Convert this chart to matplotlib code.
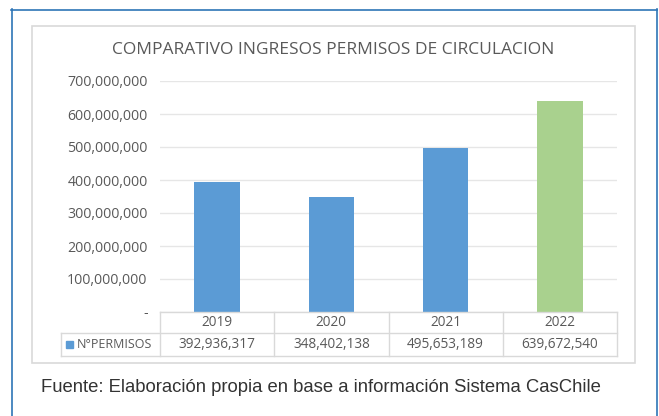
import matplotlib.pyplot as plt
from matplotlib.patches import Rectangle
from matplotlib.lines import Line2D

# Data
years = ['2019', '2020', '2021', '2022']
permisos = [392936317, 348402138, 495653189, 639672540]
bar_colors = ['#5B9BD5', '#5B9BD5', '#5B9BD5', '#A9D18E']
series_name = 'N°PERMISOS'
title = 'COMPARATIVO INGRESOS PERMISOS DE CIRCULACION'
footer = 'Fuente: Elaboración propia en base a información Sistema CasChile'

W, H = 659, 416
fig = plt.figure(figsize=(W / 100, H / 100), dpi=100)
fig.patch.set_facecolor('white')


def fx(px):
    return px / W


def fy(py):
    return 1 - py / H


def hline(x0, x1, y, color, lw=1.0):
    fig.add_artist(Line2D([fx(x0), fx(x1)], [fy(y), fy(y)], color=color, lw=lw,
                          transform=fig.transFigure))


def vline(x, y0, y1, color, lw=1.0):
    fig.add_artist(Line2D([fx(x), fx(x)], [fy(y0), fy(y1)], color=color, lw=lw,
                          transform=fig.transFigure))


# outer blue frame
blue = '#2E75B6'
hline(11, 657, 9.5, blue, 1.2)
vline(11.5, 9, 416, blue, 1.2)
vline(657, 9, 416, blue, 1.2)

# chart area frame
fig.add_artist(Rectangle((fx(32), fy(363)), fx(635) - fx(32), fy(26) - fy(363),
                         transform=fig.transFigure, fill=False, ec='#D9D9D9', lw=1.2))

# plot axes
left, right, top, bottom = 160, 617, 81, 312
ax = fig.add_axes([fx(left), fy(bottom), fx(right) - fx(left), fy(top) - fy(bottom)])
x = list(range(len(years)))
ax.bar(x, permisos, width=0.4, color=bar_colors, zorder=3)
ax.set_xlim(-0.5, len(years) - 0.5)
ax.set_ylim(0, 700000000)
ticks = list(range(0, 700000001, 100000000))
ax.set_yticks(ticks)
ax.set_yticklabels(['-'] + [f'{t:,}' for t in ticks[1:]], fontsize=10.2,
                   color='#595959', family='Open Sans')
ax.tick_params(axis='y', length=0, pad=9)
ax.set_xticks([])
ax.grid(axis='y', color='#E6E6E6', lw=1, zorder=0)
for s in ax.spines.values():
    s.set_visible(False)

fig.text(fx(333), fy(50), title, ha='center', va='center', fontsize=12.5,
         color='#595959', family='Open Sans')

# data table
tcol = '#D9D9D9'
col_w = (right - left) / len(years)
r0, r1, r2 = 312, 333, 356
hline(left, right, r0, tcol)
hline(61, right, r1, tcol)
hline(61, right, r2, tcol)
vline(61, r1, r2, tcol)
for i in range(len(years) + 1):
    vline(left + i * col_w, r0, r2, tcol)
for i, (yr, v) in enumerate(zip(years, permisos)):
    cx = left + (i + 0.5) * col_w
    fig.text(fx(cx), fy((r0 + r1) / 2), yr, ha='center', va='center',
             fontsize=9.8, color='#595959', family='Open Sans')
    fig.text(fx(cx), fy((r1 + r2) / 2), f'{v:,}', ha='center', va='center',
             fontsize=9.8, color='#595959', family='Open Sans')
fig.add_artist(Rectangle((fx(66), fy(348)), fx(7), fy(0) - fy(7),
                         transform=fig.transFigure, color='#5B9BD5'))
fig.text(fx(77), fy((r1 + r2) / 2), series_name, ha='left', va='center',
         fontsize=9, color='#595959', family='Open Sans')

fig.text(fx(41), fy(388), footer, ha='left', va='center', fontsize=13.3,
         color='#333333', family='Liberation Sans')

fig.savefig('out.png', dpi=100)
